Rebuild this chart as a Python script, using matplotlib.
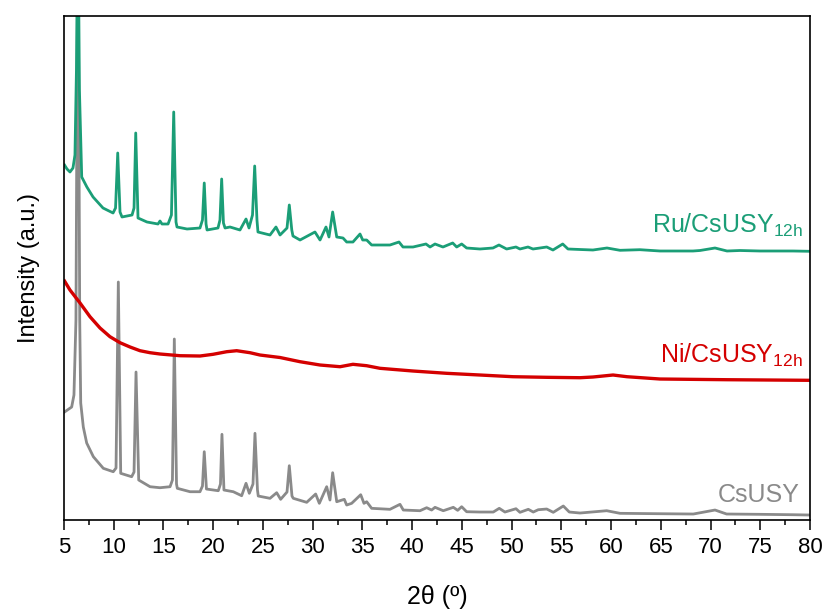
import numpy as np
import matplotlib
matplotlib.use('Agg')
import matplotlib.pyplot as plt
from matplotlib.ticker import MultipleLocator

plt.rcParams['font.family'] = ['Liberation Sans', 'DejaVu Sans']
plt.rcParams['mathtext.fontset'] = 'custom'
plt.rcParams['mathtext.rm'] = 'Liberation Sans'

# XRD traces (2theta, offset intensity a.u.)
ru_tth = [5.05, 5.3, 5.6, 5.9, 6.1, 6.25, 6.4, 6.55, 6.78, 7.3, 7.92, 8.92, 9.93, 10.18, 10.4, 10.63,
          10.83, 11.84, 12.04, 12.21, 12.44, 13.34, 14.45, 14.65, 14.85, 15.46, 15.8, 16.03, 16.26, 16.36,
          17.37, 18.67, 18.92, 19.1, 19.28, 19.38, 20.48, 20.68, 20.85, 21.03, 21.19, 21.69, 22.69,
          23.3, 23.6, 23.95, 24.17, 24.4, 24.5, 25.71, 26.31, 26.72, 27.42, 27.65, 27.9, 28.02, 28.73,
          30.23, 30.74, 31.34, 31.64, 32.01, 32.42, 33.05, 33.42, 34.05, 34.76, 35.03, 35.43, 35.93,
          37.77, 38.68, 39.08, 40.09, 41.39, 41.8, 42.3, 43.1, 44.08, 44.48, 44.98, 45.48, 46.82,
          48.13, 48.73, 49.5, 50.44, 50.84, 51.65, 52.15, 52.85, 53.53, 54.16, 55.14, 55.67, 56.88,
          58.18, 59.59, 60.9, 62.9, 64.92, 68.24, 68.94, 70.45, 71.66, 72.96, 74.97, 78.29, 80.0]
ru_int = [355, 351, 348, 352, 365, 450, 620, 430, 343, 333, 323, 312, 307, 312, 367, 308,
          303, 305, 312, 387, 302, 298, 296, 299, 296, 296, 305, 408, 298, 293,
          291, 292, 300, 337, 296, 290, 292, 300, 341, 297, 292, 293, 290,
          301, 292, 305, 354, 300, 288, 285, 293, 285, 292, 315, 290, 284, 280,
          288, 280, 293, 283, 308, 283, 282, 278, 278, 286, 280, 280, 275,
          275, 278, 273, 273, 276, 273, 276, 273, 277, 273, 276, 272, 271,
          272, 275, 271, 273, 271, 273, 271, 272, 273, 270, 276, 271, 270.5,
          270, 272, 269.7, 270.3, 269, 269, 269.5, 272, 269, 269.5, 269, 269, 268.7]

ni_tth = [5.05, 5.6, 6.61, 7.61, 8.62, 9.62, 10.63, 11.64, 12.64, 13.65, 14.65, 16.66, 18.67, 19.98,
          21.36, 22.36, 23.7, 24.7, 26.72, 28.73, 30.74, 32.75, 34.05, 35.43, 36.77, 40.09, 43.47,
          46.82, 50.14, 53.53, 56.88, 58.18, 60.2, 61.6, 64.92, 71.66, 80.0]
ni_int = [239, 230, 217, 203.3, 192, 183.3, 177.3, 173, 169.3, 167.3, 166, 164.3, 164, 165.7,
          168.3, 169.3, 167.3, 165, 162.5, 158.3, 155, 153.3, 155.7, 154.3, 151.7, 149, 146.7,
          145, 143.3, 142.7, 142.3, 143, 145, 143.3, 141, 140.3, 139.7]

cs_tth = [5.05, 5.77, 6.0, 6.2, 6.4, 6.58, 6.68, 6.94, 7.28, 7.95, 8.95, 9.95, 10.23, 10.46, 10.7,
          11.8, 12.04, 12.24, 12.51, 13.65, 14.65, 15.66, 15.9, 16.09, 16.31, 16.39, 17.67, 18.67,
          18.92, 19.1, 19.32, 20.51, 20.73, 20.88, 21.08, 22.02, 22.86, 23.3, 23.63, 24.0, 24.2,
          24.45, 24.53, 25.71, 26.38, 26.78, 27.42, 27.65, 27.92, 28.05, 29.4, 30.3, 30.67, 31.41,
          31.74, 32.01, 32.42, 33.18, 33.42, 33.92, 34.83, 35.16, 35.43, 35.93, 37.77, 38.78, 39.11,
          40.79, 41.46, 41.96, 42.3, 43.13, 44.14, 44.58, 44.98, 45.48, 46.82, 48.16, 48.76, 49.33,
          50.44, 50.84, 51.68, 52.18, 52.68, 53.53, 54.19, 55.2, 55.8, 56.88, 59.56, 60.9, 64.92,
          68.27, 70.45, 71.62, 74.97, 78.32, 80.0]
cs_int = [108, 113, 125, 200, 620, 200, 117, 93, 77, 63.3, 51.7, 48.3, 52, 238, 46.7,
          43.3, 48, 148, 40, 33.3, 32.3, 33.3, 40, 181, 36, 31.7, 28.3, 28.3,
          34, 68.3, 31, 29.3, 36, 85.7, 30, 28.3, 24.3, 36.7, 26.7, 36, 86.7,
          30, 24, 21.7, 27.3, 20.7, 28, 54.3, 24, 21.7, 17.7, 26, 16.7, 33.3,
          20, 47.3, 18.3, 20.7, 15, 16.7, 25.3, 16.7, 18.3, 11.7, 10.7, 15.7, 10,
          9.3, 12.3, 10, 12.7, 9.3, 12.7, 9.7, 13.3, 8.3, 8, 8, 11.7, 8,
          11.3, 7.7, 10.7, 8, 10.3, 11, 7.7, 14, 8, 7, 9.3, 6.7, 6.3,
          6, 10, 6, 5.7, 5.3, 5]

green = '#1b9e77'
red = '#d40000'
gray = '#8a8a8a'

fig = plt.figure(figsize=(8.26, 6.10), dpi=100)
ax = fig.add_axes([0.0775, 0.1475, 0.9031, 0.8263])

ax.plot(cs_tth, cs_int, color=gray, lw=2.0, solid_joinstyle='round')
ax.plot(ni_tth, ni_int, color=red, lw=2.4, solid_joinstyle='round')
ax.plot(ru_tth, ru_int, color=green, lw=2.0, solid_joinstyle='round')

ax.text(79.3, 287, 'Ru/CsUSY$_\\mathregular{12h}$', color=green, fontsize=18, ha='right', va='baseline')
ax.text(79.3, 157, 'Ni/CsUSY$_\\mathregular{12h}$', color=red, fontsize=18, ha='right', va='baseline')
ax.text(79.0, 18.5, 'CsUSY', color=gray, fontsize=18, ha='right', va='baseline')

ax.set_xlim(5, 80)
ax.set_ylim(0, 504)
ax.xaxis.set_major_locator(MultipleLocator(5))
ax.xaxis.set_minor_locator(MultipleLocator(2.5))
ax.set_yticks([])
ax.tick_params(axis='x', which='major', direction='out', length=7, width=1.1, labelsize=16, pad=5)
ax.tick_params(axis='x', which='minor', direction='out', length=3.5, width=1.1)
for s in ax.spines.values():
    s.set_linewidth(1.2)

ax.set_xlabel('2θ (º)', fontsize=18, labelpad=20)
ax.set_ylabel('Intensity (a.u.)', fontsize=17, labelpad=17)

fig.savefig('out.png', dpi=100)
